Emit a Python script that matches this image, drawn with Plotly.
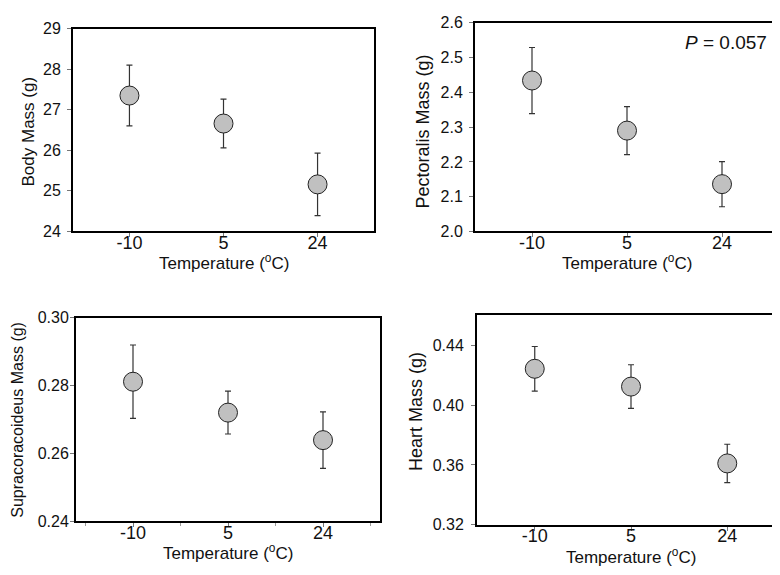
import plotly.graph_objects as go

W, H = 780, 575

categories = ["-10", "5", "24"]

body_mean = [27.35, 26.66, 25.16]
body_err = [0.75, 0.60, 0.77]

pect_mean = [2.434, 2.290, 2.136]
pect_err = [0.095, 0.069, 0.065]

supra_mean = [0.2811, 0.2720, 0.2639]
supra_err = [0.0108, 0.0063, 0.0083]

heart_mean = [0.4242, 0.4123, 0.3610]
heart_err = [0.0149, 0.0146, 0.0128]

panels = [
    dict(mean=body_mean, err=body_err, ylabel="Body Mass (g)",
         yrange=[24, 29], ytick=[24, 25, 26, 27, 28, 29], fmt="{:.0f}",
         box=(65, 366, 13, 222), tsize=17, tpos=(20, 119), ystand=3, minor=False),
    dict(mean=pect_mean, err=pect_err, ylabel="Pectoralis Mass (g)",
         yrange=[2.0, 2.6], ytick=[2.0, 2.1, 2.2, 2.3, 2.4, 2.5, 2.6], fmt="{:.1f}",
         box=(467, 771, 7, 222), tsize=18, tpos=(415, 119), ystand=3, minor=False),
    dict(mean=supra_mean, err=supra_err, ylabel="Supracoracoideus Mass (g)",
         yrange=[0.24, 0.30], ytick=[0.24, 0.26, 0.28, 0.30], fmt="{:.2f}",
         box=(68, 372, 310.7, 520.7), tsize=16, tpos=(10, 416), ystand=-2, minor=True),
    dict(mean=heart_mean, err=heart_err, ylabel="Heart Mass (g)",
         yrange=[0.32, 0.46], ytick=[0.32, 0.36, 0.40, 0.44], fmt="{:.2f}",
         box=(469, 777, 308.3, 524.3), tsize=18, tpos=(408, 408), ystand=4, minor=False),
]

FONT = "Liberation Sans, Arial, sans-serif"
fig = go.Figure()
annotations = []
xpos = list(range(len(categories)))

for i, p in enumerate(panels, start=1):
    sfx = "" if i == 1 else str(i)
    x0, x1, yt, yb = p["box"]
    fig.add_trace(go.Scatter(
        x=xpos, y=p["mean"], mode="markers",
        xaxis="x" + sfx, yaxis="y" + sfx,
        marker=dict(size=19, color="#c0c0c0", line=dict(color="#222222", width=1)),
        error_y=dict(type="data", array=p["err"], visible=True,
                     color="#333333", thickness=1.2, width=3),
        showlegend=False, hoverinfo="skip",
    ))
    xaxis = dict(
        domain=[x0 / W, x1 / W], range=[-0.6, 2.6], anchor="y" + sfx,
        tickvals=xpos, ticktext=categories, ticks="outside", ticklen=4,
        tickcolor="#777777", tickwidth=1, ticklabelstandoff=-10,
        showline=True, linecolor="black", linewidth=2, mirror=True,
        showgrid=False, zeroline=False,
        tickfont=dict(family=FONT, size=18, color="#111111"),
        fixedrange=True,
    )
    if p["minor"]:
        xaxis["minor"] = dict(tickvals=[-0.5, 0.5, 1.5, 2.5], ticks="outside",
                              ticklen=3, tickcolor="#999999", showgrid=False)
    yaxis = dict(
        domain=[1 - yb / H, 1 - yt / H], range=p["yrange"], anchor="x" + sfx,
        tickvals=p["ytick"], ticktext=[p["fmt"].format(v) for v in p["ytick"]],
        ticks="outside", ticklen=4, tickcolor="#777777", tickwidth=1,
        ticklabelstandoff=p["ystand"],
        showline=True, linecolor="black", linewidth=2, mirror=True,
        showgrid=False, zeroline=False,
        tickfont=dict(family=FONT, size=16, color="#111111"),
        fixedrange=True,
    )
    fig.layout["xaxis" + sfx] = xaxis
    fig.layout["yaxis" + sfx] = yaxis

    # x title
    annotations.append(dict(
        text="Temperature (<sup>o</sup>C)", xref="paper", yref="paper",
        x=(x0 + x1) / 2 / W, y=1 - (yb + 32) / H, xanchor="center", yanchor="middle",
        showarrow=False, font=dict(family=FONT, size=17, color="#111111"),
    ))
    # y title
    tx, ty = p["tpos"]
    annotations.append(dict(
        text=p["ylabel"], xref="paper", yref="paper",
        x=tx / W, y=1 - ty / H, xanchor="center", yanchor="middle",
        textangle=-90, showarrow=False,
        font=dict(family=FONT, size=p["tsize"], color="#111111"),
    ))

annotations.append(dict(
    text="<i>P</i> = 0.057", xref="paper", yref="paper",
    x=761 / W, y=1 - 27 / H, xanchor="right", yanchor="middle",
    showarrow=False, font=dict(family=FONT, size=19, color="#111111"),
))

fig.update_layout(
    width=W, height=H, margin=dict(l=0, r=0, t=0, b=0),
    paper_bgcolor="white", plot_bgcolor="white",
    annotations=annotations,
)

fig.write_html("out.html")
